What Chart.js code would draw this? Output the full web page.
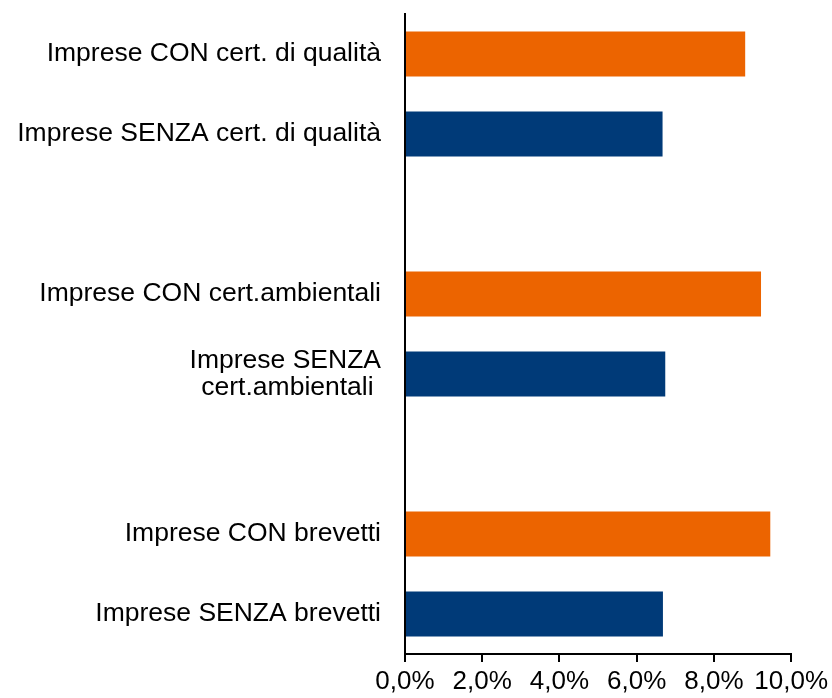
<!DOCTYPE html>
<html>
<head>
<meta charset="utf-8">
<script src="https://cdn.jsdelivr.net/npm/chart.js@4"></script>
<style>
  body { margin: 0; background: #fff; }
  #wrap { width: 832px; height: 698px; }
</style>
</head>
<body>
<div id="wrap"><canvas id="myChart"></canvas></div>
<script>
// categories, top to bottom ('' = empty gap row)
const labels = [
  'Imprese CON cert. di qualità',
  'Imprese SENZA cert. di qualità',
  '',
  'Imprese CON cert.ambientali',
  ['Imprese SENZA', 'cert.ambientali '],
  '',
  'Imprese CON brevetti',
  'Imprese SENZA brevetti'
];
// percentages
const values = [8.81, 6.67, null, 9.22, 6.74, null, 9.46, 6.68];
const groups = ['CON', 'SENZA', null, 'CON', 'SENZA', null, 'CON', 'SENZA'];
const xTicks = [0, 2, 4, 6, 8, 10];

const colors = { CON: '#EC6400', SENZA: '#003A78' };

const ctx = document.getElementById('myChart');
new Chart(ctx, {
  type: 'bar',
  data: {
    labels: labels,
    datasets: [{
      data: values,
      backgroundColor: groups.map(g => g ? colors[g] : 'transparent'),
      borderWidth: 0,
      categoryPercentage: 1,
      barPercentage: 0.565
    }]
  },
  options: {
    indexAxis: 'y',
    responsive: true,
    maintainAspectRatio: false,
    animation: false,
    layout: { padding: { top: 14, right: 39, bottom: 0, left: 0 } },
    plugins: {
      legend: { display: false },
      tooltip: { enabled: false }
    },
    scales: {
      x: {
        min: 0,
        max: 10,
        afterBuildTicks: (s) => { s.ticks = xTicks.map(v => ({ value: v })); },
        afterFit: (s) => { s.height = 44; },
        grid: { drawOnChartArea: false, tickLength: 8, color: '#000', lineWidth: 2 },
        border: { color: '#000', width: 2 },
        ticks: {
          color: '#000',
          padding: 4,
          maxRotation: 0,
          font: { family: 'Liberation Sans, Arial, sans-serif', size: 26 },
          callback: (v) => v.toFixed(1).replace('.', ',') + '%'
        }
      },
      y: {
        afterFit: (s) => { s.width = 405; s.paddingTop = 0; s.paddingBottom = 0; },
        grid: { display: false },
        border: { color: '#000', width: 2 },
        ticks: {
          color: '#000',
          padding: 16,
          autoSkip: false,
          font: { family: 'Liberation Sans, Arial, sans-serif', size: 26.5, lineHeight: 1 }
        }
      }
    }
  }
});
</script>
</body>
</html>
